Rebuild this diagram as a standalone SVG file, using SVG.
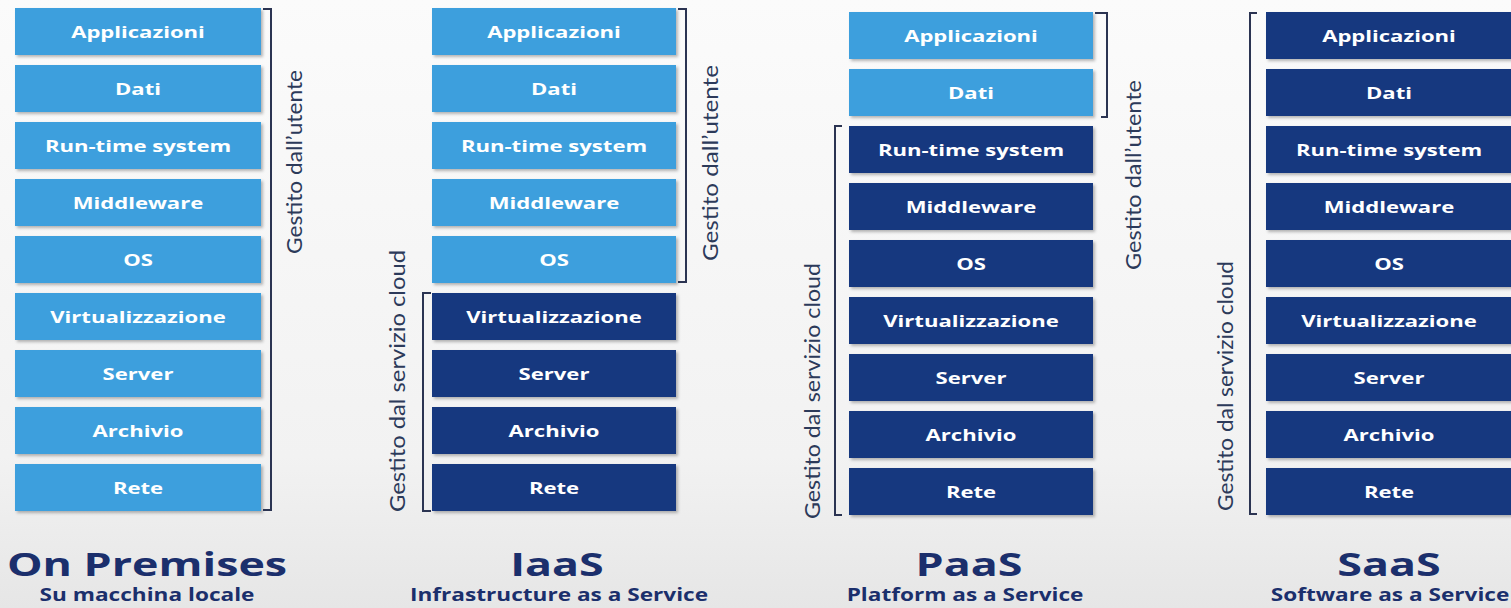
<svg xmlns="http://www.w3.org/2000/svg" width="1511" height="608" viewBox="0 0 1511 608">
  <defs>
    <linearGradient id="bg" x1="0" y1="0" x2="0" y2="1">
      <stop offset="0" stop-color="#fbfbfb"/>
      <stop offset="0.75" stop-color="#f2f2f2"/>
      <stop offset="1" stop-color="#e6e6e6"/>
    </linearGradient>
    <filter id="sh" x="-5%" y="-10%" width="112%" height="130%">
      <feDropShadow dx="2" dy="2" stdDeviation="1.5" flood-color="#000" flood-opacity="0.28"/>
    </filter>
  </defs>
  <style>
    .lb { fill: #3c9fdd; filter: url(#sh); }
    .dk { fill: #14387f; filter: url(#sh); }
    .bt { font-family: "Open Sans", "DejaVu Sans", sans-serif; font-weight: bold; font-size: 16px; fill: #ffffff; text-anchor: middle; dominant-baseline: central; }
    .br { fill: none; stroke: #2b3452; stroke-width: 2; }
    .rt { font-family: Lato, "Liberation Sans", sans-serif; font-size: 22px; fill: #2c3a5a; text-anchor: middle; }
    .tt { font-family: "Open Sans", "DejaVu Sans", sans-serif; font-weight: bold; font-size: 32px; fill: #1b2f6c; text-anchor: middle; }
    .st { font-family: "Open Sans", "DejaVu Sans", sans-serif; font-weight: bold; font-size: 17px; fill: #1b2f6c; text-anchor: middle; }
  </style>
  <rect width="1511" height="608" fill="url(#bg)"/>

  <!-- Column 1: On Premises -->
  <g id="onpremises">
    <rect class="lb" x="15" y="8" width="246" height="47"/>
    <text class="bt" transform="translate(138,32) scale(1.38,1)">Applicazioni</text>
    <rect class="lb" x="15" y="65" width="246" height="47"/>
    <text class="bt" transform="translate(138,89) scale(1.38,1)">Dati</text>
    <rect class="lb" x="15" y="122" width="246" height="47"/>
    <text class="bt" transform="translate(138,146) scale(1.38,1)">Run-time system</text>
    <rect class="lb" x="15" y="179" width="246" height="47"/>
    <text class="bt" transform="translate(138,203) scale(1.38,1)">Middleware</text>
    <rect class="lb" x="15" y="236" width="246" height="47"/>
    <text class="bt" transform="translate(138,260) scale(1.38,1)">OS</text>
    <rect class="lb" x="15" y="293" width="246" height="47"/>
    <text class="bt" transform="translate(138,317) scale(1.38,1)">Virtualizzazione</text>
    <rect class="lb" x="15" y="350" width="246" height="47"/>
    <text class="bt" transform="translate(138,374) scale(1.38,1)">Server</text>
    <rect class="lb" x="15" y="407" width="246" height="47"/>
    <text class="bt" transform="translate(138,431) scale(1.38,1)">Archivio</text>
    <rect class="lb" x="15" y="464" width="246" height="47"/>
    <text class="bt" transform="translate(138,488) scale(1.38,1)">Rete</text>
    <text class="tt" transform="translate(147,576) scale(1.4,1)">On Premises</text>
    <text class="st" transform="translate(147,601) scale(1.33,1)">Su macchina locale</text>
  </g>

  <!-- Column 2: IaaS -->
  <g id="iaas">
    <rect class="lb" x="432" y="8" width="244" height="47"/>
    <text class="bt" transform="translate(554,32) scale(1.38,1)">Applicazioni</text>
    <rect class="lb" x="432" y="65" width="244" height="47"/>
    <text class="bt" transform="translate(554,89) scale(1.38,1)">Dati</text>
    <rect class="lb" x="432" y="122" width="244" height="47"/>
    <text class="bt" transform="translate(554,146) scale(1.38,1)">Run-time system</text>
    <rect class="lb" x="432" y="179" width="244" height="47"/>
    <text class="bt" transform="translate(554,203) scale(1.38,1)">Middleware</text>
    <rect class="lb" x="432" y="236" width="244" height="47"/>
    <text class="bt" transform="translate(554,260) scale(1.38,1)">OS</text>
    <rect class="dk" x="432" y="293" width="244" height="47"/>
    <text class="bt" transform="translate(554,317) scale(1.38,1)">Virtualizzazione</text>
    <rect class="dk" x="432" y="350" width="244" height="47"/>
    <text class="bt" transform="translate(554,374) scale(1.38,1)">Server</text>
    <rect class="dk" x="432" y="407" width="244" height="47"/>
    <text class="bt" transform="translate(554,431) scale(1.38,1)">Archivio</text>
    <rect class="dk" x="432" y="464" width="244" height="47"/>
    <text class="bt" transform="translate(554,488) scale(1.38,1)">Rete</text>
    <text class="tt" transform="translate(557,576) scale(1.4,1)">IaaS</text>
    <text class="st" transform="translate(559,601) scale(1.33,1)">Infrastructure as a Service</text>
  </g>

  <!-- Column 3: PaaS -->
  <g id="paas">
    <rect class="lb" x="849" y="12" width="244" height="47"/>
    <text class="bt" transform="translate(971,36) scale(1.38,1)">Applicazioni</text>
    <rect class="lb" x="849" y="69" width="244" height="47"/>
    <text class="bt" transform="translate(971,93) scale(1.38,1)">Dati</text>
    <rect class="dk" x="849" y="126" width="244" height="47"/>
    <text class="bt" transform="translate(971,150) scale(1.38,1)">Run-time system</text>
    <rect class="dk" x="849" y="183" width="244" height="47"/>
    <text class="bt" transform="translate(971,207) scale(1.38,1)">Middleware</text>
    <rect class="dk" x="849" y="240" width="244" height="47"/>
    <text class="bt" transform="translate(971,264) scale(1.38,1)">OS</text>
    <rect class="dk" x="849" y="297" width="244" height="47"/>
    <text class="bt" transform="translate(971,321) scale(1.38,1)">Virtualizzazione</text>
    <rect class="dk" x="849" y="354" width="244" height="47"/>
    <text class="bt" transform="translate(971,378) scale(1.38,1)">Server</text>
    <rect class="dk" x="849" y="411" width="244" height="47"/>
    <text class="bt" transform="translate(971,435) scale(1.38,1)">Archivio</text>
    <rect class="dk" x="849" y="468" width="244" height="47"/>
    <text class="bt" transform="translate(971,492) scale(1.38,1)">Rete</text>
    <text class="tt" transform="translate(969,576) scale(1.4,1)">PaaS</text>
    <text class="st" transform="translate(965,601) scale(1.33,1)">Platform as a Service</text>
  </g>

  <!-- Column 4: SaaS -->
  <g id="saas">
    <rect class="dk" x="1266" y="12" width="250" height="47"/>
    <text class="bt" transform="translate(1389,36) scale(1.38,1)">Applicazioni</text>
    <rect class="dk" x="1266" y="69" width="250" height="47"/>
    <text class="bt" transform="translate(1389,93) scale(1.38,1)">Dati</text>
    <rect class="dk" x="1266" y="126" width="250" height="47"/>
    <text class="bt" transform="translate(1389,150) scale(1.38,1)">Run-time system</text>
    <rect class="dk" x="1266" y="183" width="250" height="47"/>
    <text class="bt" transform="translate(1389,207) scale(1.38,1)">Middleware</text>
    <rect class="dk" x="1266" y="240" width="250" height="47"/>
    <text class="bt" transform="translate(1389,264) scale(1.38,1)">OS</text>
    <rect class="dk" x="1266" y="297" width="250" height="47"/>
    <text class="bt" transform="translate(1389,321) scale(1.38,1)">Virtualizzazione</text>
    <rect class="dk" x="1266" y="354" width="250" height="47"/>
    <text class="bt" transform="translate(1389,378) scale(1.38,1)">Server</text>
    <rect class="dk" x="1266" y="411" width="250" height="47"/>
    <text class="bt" transform="translate(1389,435) scale(1.38,1)">Archivio</text>
    <rect class="dk" x="1266" y="468" width="250" height="47"/>
    <text class="bt" transform="translate(1389,492) scale(1.38,1)">Rete</text>
    <text class="tt" transform="translate(1389,576) scale(1.4,1)">SaaS</text>
    <text class="st" transform="translate(1390,601) scale(1.33,1)">Software as a Service</text>
  </g>

  <!-- Brackets and their labels -->
  <g id="brackets">
    <path class="br" d="M263,9 H271 V510 H263"/>
    <text class="rt" transform="translate(302,162) rotate(-90)" textLength="184" lengthAdjust="spacingAndGlyphs">Gestito dall’utente</text>

    <path class="br" d="M678,9 H686 V282 H678"/>
    <text class="rt" transform="translate(718,163) rotate(-90)" textLength="196" lengthAdjust="spacingAndGlyphs">Gestito dall’utente</text>
    <path class="br" d="M431,293 H423 V511 H431"/>
    <text class="rt" transform="translate(405,381) rotate(-90)" textLength="262" lengthAdjust="spacingAndGlyphs">Gestito dal servizio cloud</text>

    <path class="br" d="M1095,13 H1107 V117 H1101"/>
    <text class="rt" transform="translate(1141,175) rotate(-90)" textLength="190" lengthAdjust="spacingAndGlyphs">Gestito dall’utente</text>
    <path class="br" d="M842,126 H835 V515 H842"/>
    <text class="rt" transform="translate(820,391) rotate(-90)" textLength="256" lengthAdjust="spacingAndGlyphs">Gestito dal servizio cloud</text>

    <path class="br" d="M1257,13 H1250 V514 H1257"/>
    <text class="rt" transform="translate(1233,386) rotate(-90)" textLength="250" lengthAdjust="spacingAndGlyphs">Gestito dal servizio cloud</text>
  </g>
</svg>
